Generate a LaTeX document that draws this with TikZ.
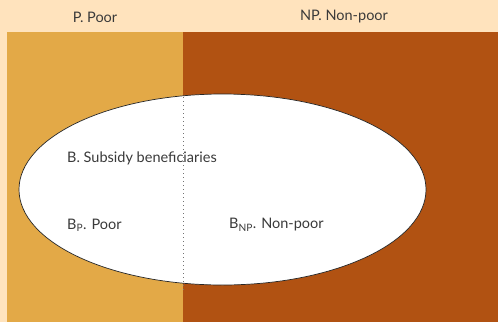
\documentclass[tikz,border=0pt]{standalone}
\usepackage{fontspec}
\setmainfont{Lato}
\usetikzlibrary{shapes.geometric}
\definecolor{peach}{HTML}{FFE3BD}
\definecolor{poorcol}{HTML}{E3A947}
\definecolor{nonpoorcol}{HTML}{B15212}
\definecolor{txt}{HTML}{3A3A3A}
\def\W{498}
\def\H{322}
\def\bandy{32}
\def\split{183}
\begin{document}
\begin{tikzpicture}[x=1pt,y=-1pt,font=\fontsize{14.5}{17}\selectfont,
  lbl/.style={text=txt,inner sep=0pt},
  setshape/.style={ellipse,draw=black!85,line width=0.7pt,fill=white,inner sep=0pt}]
\fill[peach] (0,0) rectangle (\W,\H);
\fill[poorcol] (7,\bandy) rectangle (\split,\H);
\fill[nonpoorcol] (\split,\bandy) rectangle (\W,\H);
\node[setshape,minimum width=407pt,minimum height=191pt] (B) at (222.5,189.5) {};
\coordinate (dtop) at (\split,97);
\coordinate (dbot) at (\split,291);
\draw[black!55,line width=0.9pt,dash pattern=on 0.9pt off 3.1pt] (dtop) -- (dbot);
\node[lbl] (P) at (95,17) {P. Poor};
\node[lbl] (NP) at (344,17) {NP. Non-poor};
\node[lbl,anchor=west] (Blbl) at (67,158) {B. Subsidy beneficiaries};
\node[lbl,anchor=west] (BP) at (67,225) {B\textsubscript{P}. Poor};
\node[lbl,anchor=west] (BNP) at (229,225) {B\textsubscript{NP}. Non-poor};
\end{tikzpicture}
\end{document}
